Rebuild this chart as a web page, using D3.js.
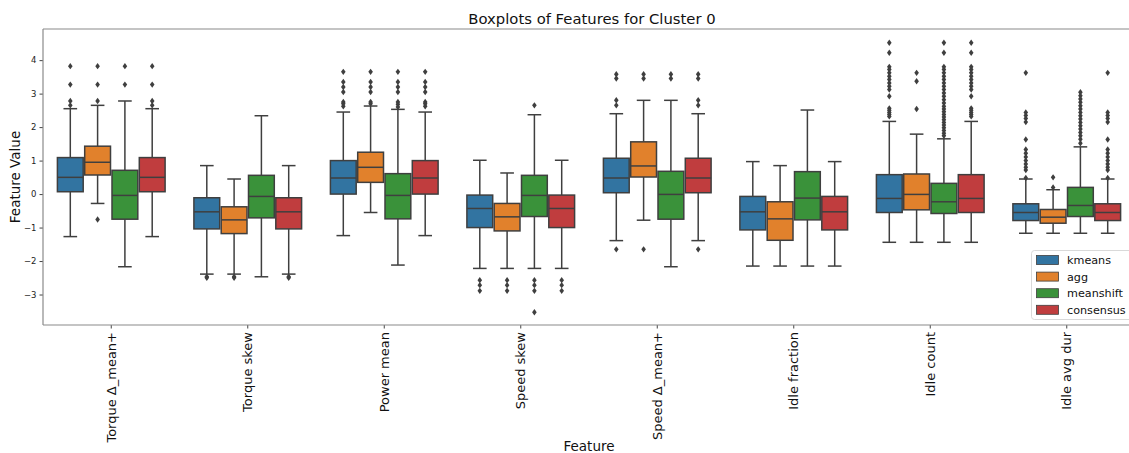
<!DOCTYPE html>
<html>
<head>
<meta charset="utf-8">
<script src="https://cdn.jsdelivr.net/npm/d3@7"></script>
<style>
  html, body { margin: 0; padding: 0; background: #fff; }
  svg { display: block; font-family: "DejaVu Sans", sans-serif; }
</style>
</head>
<body>
<svg id="chart" width="1129" height="453"></svg>
<script>
const features = ["Torque \u0394_mean+", "Torque skew", "Power mean", "Speed skew",
                  "Speed \u0394_mean+", "Idle fraction", "Idle count", "Idle avg dur"];
const methods = ["kmeans", "agg", "meanshift", "consensus"];
const colors = ["#3274a1", "#e1812c", "#3a923a", "#c03d3e"];
const yTicks = [-3, -2, -1, 0, 1, 2, 3, 4];

// per feature: [kmeans, agg, meanshift, consensus]
const whiskerLow = [
  [-1.27, -0.28, -2.17, -1.27],
  [-2.39, -2.39, -2.47, -2.39],
  [-1.24, -0.55, -2.12, -1.24],
  [-2.22, -2.22, -2.22, -2.22],
  [-1.39, -0.78, -2.17, -1.39],
  [-2.15, -2.15, -2.15, -2.15],
  [-1.44, -1.44, -1.44, -1.44],
  [-1.17, -1.17, -1.17, -1.17]
];
const q1 = [
  [0.07, 0.57, -0.75, 0.07],
  [-1.04, -1.18, -0.71, -1.04],
  [0.00, 0.35, -0.74, 0.00],
  [-1.00, -1.10, -0.67, -1.00],
  [0.04, 0.51, -0.75, 0.04],
  [-1.07, -1.38, -0.77, -1.07],
  [-0.55, -0.47, -0.58, -0.55],
  [-0.79, -0.87, -0.67, -0.79]
];
const median = [
  [0.50, 0.95, -0.04, 0.50],
  [-0.53, -0.77, -0.07, -0.53],
  [0.48, 0.80, -0.04, 0.48],
  [-0.43, -0.68, -0.04, -0.43],
  [0.48, 0.84, -0.01, 0.48],
  [-0.53, -0.74, -0.12, -0.53],
  [-0.13, -0.01, -0.23, -0.13],
  [-0.55, -0.69, -0.34, -0.55]
];
const q3 = [
  [1.09, 1.43, 0.71, 1.09],
  [-0.11, -0.38, 0.56, -0.11],
  [1.00, 1.25, 0.61, 1.00],
  [-0.03, -0.28, 0.56, -0.03],
  [1.07, 1.56, 0.68, 1.07],
  [-0.07, -0.23, 0.67, -0.07],
  [0.58, 0.60, 0.32, 0.58],
  [-0.29, -0.46, 0.20, -0.29]
];
const whiskerHigh = [
  [2.55, 2.65, 2.78, 2.55],
  [0.85, 0.45, 2.34, 0.85],
  [2.45, 2.63, 2.53, 2.45],
  [1.01, 0.63, 2.37, 1.01],
  [2.40, 2.80, 2.80, 2.40],
  [0.97, 0.85, 2.51, 0.97],
  [2.17, 1.79, 1.65, 2.17],
  [0.45, 0.13, 1.41, 0.45]
];
const idleCountKm = [4.52, 4.22, 3.80, 3.72, 3.62, 3.52, 3.42, 3.32, 3.22, 3.12, 2.92, 2.56, 2.50, 2.44, 2.38, 2.32];
const idleCountMs = [4.52, 4.22, 3.80, 3.72, 3.62, 3.52, 3.42, 3.32, 3.22, 3.12, 3.02, 2.92, 2.82, 2.72, 2.62,
                     2.54, 2.46, 2.38, 2.30, 2.22, 2.14, 2.06, 1.98, 1.90, 1.82, 1.74];
const idleDurKm = [3.62, 2.44, 2.35, 2.26, 2.15, 1.63, 1.33, 1.22, 1.11, 1.00, 0.90, 0.80, 0.72, 0.48];
const idleDurMs = [3.04, 2.94, 2.84, 2.74, 2.64, 2.54, 2.44, 2.34, 2.24, 2.14, 2.04, 1.94, 1.84, 1.74, 1.64, 1.52];
const outliers = [
  [[3.82, 3.27, 2.78, 2.65], [3.82, 3.27, 2.78, -0.76], [3.82, 3.27], [3.82, 3.27, 2.78, 2.65]],
  [[-2.47, -2.50], [-2.47, -2.50], [], [-2.47, -2.50]],
  [[3.65, 3.35, 3.20, 3.05, 2.75, 2.70, 2.62], [3.65, 3.35, 3.20, 3.05, 2.75, 2.70],
   [3.65, 3.35, 3.20, 3.05, 2.75, 2.68, 2.60], [3.65, 3.35, 3.20, 3.05, 2.75, 2.70, 2.62]],
  [[-2.57, -2.72, -2.89], [-2.57, -2.72, -2.89], [2.65, -2.57, -2.72, -2.89, -3.53], [-2.57, -2.72, -2.89]],
  [[3.58, 3.45, 2.80, 2.65, -1.65], [3.58, 3.45, -1.65], [3.58, 3.45], [3.58, 3.45, 2.80, 2.65, -1.65]],
  [[], [], [], []],
  [idleCountKm, [3.62, 3.37, 2.54], idleCountMs, idleCountKm],
  [idleDurKm, [0.50, 0.20], idleDurMs, idleDurKm]
];

const svg = d3.select("#chart");
const mLeft = 43, mRight = 1135, mTop = 29, mBottom = 325;
const lineColor = "#3f3f3f";

const x = d3.scaleBand().domain(features).range([mLeft, mRight]).padding(0);
const xHue = d3.scaleBand().domain(methods).range([-0.4 * x.bandwidth(), 0.4 * x.bandwidth()]).padding(0);
const y = d3.scaleLinear().domain([-3.91, 4.93]).range([mBottom, mTop]);

// title
svg.append("text").attr("x", 592).attr("y", 24).attr("text-anchor", "middle")
  .attr("font-size", 14.8).attr("fill", "#111").text("Boxplots of Features for Cluster 0");

// axes
const yAxis = svg.append("g").attr("transform", `translate(${mLeft},0)`)
  .call(d3.axisLeft(y).tickValues(yTicks).tickSize(3.5).tickPadding(3).tickFormat(d => d < 0 ? "\u2212" + Math.abs(d) : d));
yAxis.select(".domain").remove();
yAxis.selectAll("line").attr("stroke", "#444");
yAxis.selectAll("text").attr("font-size", 8.5).attr("fill", "#222").attr("font-family", "DejaVu Sans");

const xAxis = svg.append("g").attr("transform", `translate(0,${mBottom})`)
  .call(d3.axisBottom(x).tickSize(3.5).tickPadding(3));
xAxis.select(".domain").remove();
xAxis.selectAll("line").attr("stroke", "#444");
xAxis.selectAll("text")
  .attr("font-size", 13).attr("fill", "#111").attr("font-family", "DejaVu Sans")
  .attr("text-anchor", "end").attr("dy", "0.35em")
  .attr("transform", "translate(0,7) rotate(-90)")
  .attr("x", 0).attr("y", 0);

// spines
svg.append("line").attr("x1", mLeft).attr("x2", mLeft).attr("y1", mTop).attr("y2", mBottom)
  .attr("stroke", "#8a8a8a").attr("stroke-width", 1.2);
svg.append("line").attr("x1", mLeft).attr("x2", mRight).attr("y1", mBottom).attr("y2", mBottom)
  .attr("stroke", "#8a8a8a").attr("stroke-width", 1.2);
svg.append("line").attr("x1", mLeft).attr("x2", mRight).attr("y1", mTop).attr("y2", mTop)
  .attr("stroke", "#8a8a8a").attr("stroke-width", 1.2);

// axis labels
svg.append("text").attr("transform", `translate(20,${(mTop + mBottom) / 2}) rotate(-90)`)
  .attr("text-anchor", "middle").attr("font-size", 13.5).attr("fill", "#111").text("Feature Value");
svg.append("text").attr("x", 589).attr("y", 451).attr("text-anchor", "middle")
  .attr("font-size", 13.5).attr("fill", "#111").text("Feature");

// boxes
const bw = xHue.bandwidth();
const capW = bw * 0.5;
features.forEach((f, fi) => {
  methods.forEach((m, mi) => {
    const cx = x(f) + x.bandwidth() / 2 + xHue(m) + bw / 2;
    const g = svg.append("g");
    g.append("line").attr("x1", cx).attr("x2", cx)
      .attr("y1", y(q3[fi][mi])).attr("y2", y(whiskerHigh[fi][mi]))
      .attr("stroke", lineColor).attr("stroke-width", 1.5);
    g.append("line").attr("x1", cx).attr("x2", cx)
      .attr("y1", y(q1[fi][mi])).attr("y2", y(whiskerLow[fi][mi]))
      .attr("stroke", lineColor).attr("stroke-width", 1.5);
    [whiskerHigh[fi][mi], whiskerLow[fi][mi]].forEach(v => {
      g.append("line").attr("x1", cx - capW / 2).attr("x2", cx + capW / 2)
        .attr("y1", y(v)).attr("y2", y(v))
        .attr("stroke", lineColor).attr("stroke-width", 1.5);
    });
    g.append("rect").attr("x", cx - bw / 2 + 0.75).attr("width", bw - 1.5)
      .attr("y", y(q3[fi][mi])).attr("height", y(q1[fi][mi]) - y(q3[fi][mi]))
      .attr("fill", colors[mi]).attr("stroke", lineColor).attr("stroke-width", 1.5);
    g.append("line").attr("x1", cx - bw / 2 + 0.75).attr("x2", cx + bw / 2 - 0.75)
      .attr("y1", y(median[fi][mi])).attr("y2", y(median[fi][mi]))
      .attr("stroke", lineColor).attr("stroke-width", 1.5);
    g.selectAll("path.out").data(outliers[fi][mi]).enter().append("path")
      .attr("class", "out")
      .attr("d", "M0,-3.2 L2.3,0 L0,3.2 L-2.3,0 Z")
      .attr("transform", d => `translate(${cx},${y(d)})`)
      .attr("fill", lineColor);
  });
});

// legend
const lg = svg.append("g");
lg.append("rect").attr("x", 1031.5).attr("y", 250.5).attr("width", 110).attr("height", 69)
  .attr("rx", 3).attr("fill", "#fff").attr("fill-opacity", 0.85).attr("stroke", "#d9d9d9");
methods.forEach((m, i) => {
  const ry = 260 + i * 16.6;
  lg.append("rect").attr("x", 1036.5).attr("y", ry - 4.5).attr("width", 22).attr("height", 9)
    .attr("fill", colors[i]).attr("stroke", lineColor).attr("stroke-width", 0.8);
  lg.append("text").attr("x", 1067).attr("y", ry).attr("dy", "0.35em")
    .attr("font-size", 11.2).attr("fill", "#111").text(m);
});
</script>
</body>
</html>
